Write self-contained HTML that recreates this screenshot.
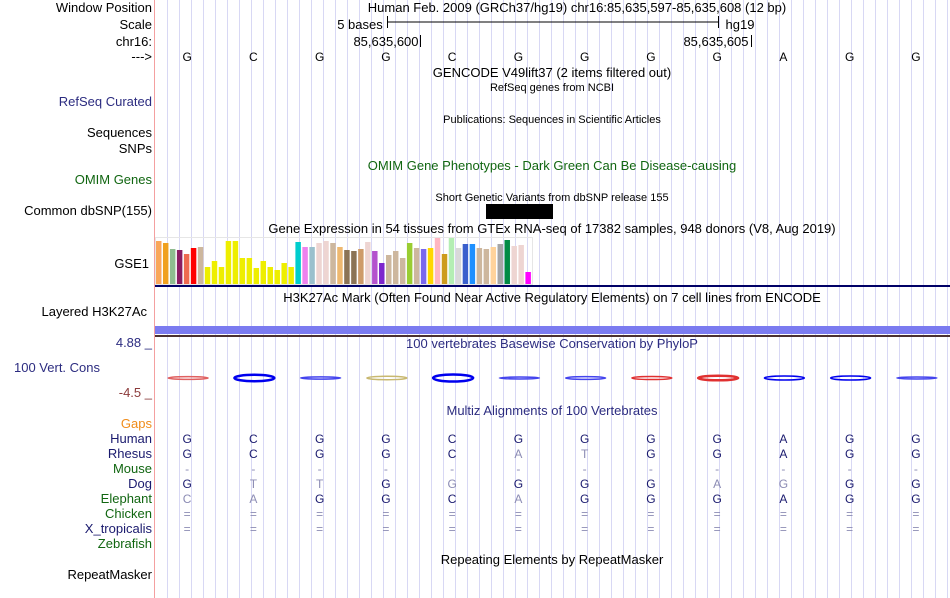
<!DOCTYPE html>
<html><head><meta charset="utf-8"><style>
html,body{margin:0;padding:0;background:#fff;}
svg{display:block;font-family:"Liberation Sans",sans-serif;}
</style></head><body>
<svg id="ucsc" width="950" height="598" viewBox="0 0 950 598" xmlns="http://www.w3.org/2000/svg">
<g id="grid"></g>
<line x1="154.5" y1="0" x2="154.5" y2="598" stroke="#f4a0a0"/>
<g id="labels" font-size="13" text-anchor="end">
<text x="152" y="12">Window Position</text>
<text x="152" y="29">Scale</text>
<text x="152" y="46">chr16:</text>
<text x="152" y="61">---&gt;</text>
<text x="152" y="106" fill="#2c2c80">RefSeq Curated</text>
<text x="152" y="137">Sequences</text>
<text x="152" y="153">SNPs</text>
<text x="152" y="184" fill="#116611">OMIM Genes</text>
<text x="152" y="215">Common dbSNP(155)</text>
<text x="149" y="268">GSE1</text>
<text x="147" y="316">Layered H3K27Ac</text>
<text x="100" y="372" fill="#2c2c80">100 Vert. Cons</text>
<text x="152" y="347" fill="#2c2c80">4.88 _</text>
<text x="152" y="397" fill="#8b3a3a">-4.5 _</text>
<text x="152" y="428" fill="#f08c1a">Gaps</text>
<text x="152" y="443" fill="#1a1a6e">Human</text>
<text x="152" y="458" fill="#1a1a6e">Rhesus</text>
<text x="152" y="473" fill="#116611">Mouse</text>
<text x="152" y="488" fill="#1a1a6e">Dog</text>
<text x="152" y="503" fill="#116611">Elephant</text>
<text x="152" y="518" fill="#116611">Chicken</text>
<text x="152" y="533" fill="#1a1a6e">X_tropicalis</text>
<text x="152" y="548" fill="#116611">Zebrafish</text>
<text x="152" y="579">RepeatMasker</text>
</g>
<g font-size="13" text-anchor="middle">
<text x="577" y="12">Human Feb. 2009 (GRCh37/hg19) chr16:85,635,597-85,635,608 (12 bp)</text>
<text x="360" y="29">5 bases</text>
<text x="740" y="29">hg19</text>
<text x="386" y="46">85,635,600</text>
<text x="716" y="46">85,635,605</text>
<text x="552" y="77">GENCODE V49lift37 (2 items filtered out)</text>
<text x="552" y="91" font-size="11">RefSeq genes from NCBI</text>
<text x="552" y="123" font-size="11">Publications: Sequences in Scientific Articles</text>
<text x="552" y="170" fill="#116611">OMIM Gene Phenotypes - Dark Green Can Be Disease-causing</text>
<text x="552" y="201" font-size="11">Short Genetic Variants from dbSNP release 155</text>
<text x="552" y="233">Gene Expression in 54 tissues from GTEx RNA-seq of 17382 samples, 948 donors (V8, Aug 2019)</text>
<text x="552" y="302">H3K27Ac Mark (Often Found Near Active Regulatory Elements) on 7 cell lines from ENCODE</text>
<text x="552" y="348" fill="#2c2c80">100 vertebrates Basewise Conservation by PhyloP</text>
<text x="552" y="415" fill="#2c2c80">Multiz Alignments of 100 Vertebrates</text>
<text x="552" y="564">Repeating Elements by RepeatMasker</text>
</g>
<g stroke="#000">
<line x1="387" y1="22" x2="718" y2="22"/><line x1="387.5" y1="16" x2="387.5" y2="28"/><line x1="718.5" y1="16" x2="718.5" y2="28"/>
<line x1="420.5" y1="35" x2="420.5" y2="47"/><line x1="751.5" y1="35" x2="751.5" y2="47"/>
</g>
<rect x="486" y="204" width="67" height="15" fill="#000"/>
<g id="gtex"></g>
<rect x="155" y="285" width="795" height="2" fill="#000066"/>
<rect x="155" y="326" width="795" height="8" fill="#7b7bf0"/>
<rect x="155" y="335" width="795" height="2" fill="#4a3030"/>
<g id="cons"></g>
<g id="bases" font-size="12" text-anchor="middle"></g>
</svg>
<script>
const refBases = ["G","C","G","G","C","G","G","G","G","A","G","G"];
const species = ["Human","Rhesus","Mouse","Dog","Elephant","Chicken","X_tropicalis"];
const alignRows = [
 "GCGGCGGGGAGG",
 "GCGGCATGGAGG",
 "------------",
 "GTTGGGGGAGGG",
 "CAGGCAGGGAGG",
 "============",
 "============"
];
const gtexValues = [44,42,36,35,31,37,38,18,24,18,44,44,27,27,17,24,18,15,22,18,43,38,38,42,44,42,38,35,34,36,43,34,22,30,34,27,42,37,36,37,47,31,48,37,41,41,37,36,38,41,45,39,40,13];
const gtexColors = ["#f9a65a","#f0a01e","#8fbc8f","#8b1c62","#ee6a50","#ff0000","#cdb79e","#eeee00","#eeee00","#eeee00","#eeee00","#eeee00","#eeee00","#eeee00","#eeee00","#eeee00","#eeee00","#eeee00","#eeee00","#eeee00","#00cdcd","#ee82ee","#9ac0cd","#eed5d2","#eed5d2","#cdb79e","#eeb870","#8b7355","#8b7355","#cd9b6a","#eed5d2","#b452cd","#7d26cd","#cdb79e","#cdb79e","#cdb79e","#9acd32","#cdb79e","#7a67ee","#ffd700","#ffb6c1","#cd9b1d","#b4eeb4","#d9d9d9","#3a5fcd","#1e90ff","#cdb79e","#cdb79e","#ffd39b","#a6a6a6","#008b45","#eed5d2","#eed5d2","#ff00ff"];
const consScores = [0.3,0.9,0.2,0.4,1.0,0.15,0.3,0.35,0.6,0.5,0.5,0.15];
const consColors = ["#e06060","#0000ee","#4444ee","#c8b870","#0000ee","#4444ee","#4444ee","#e03030","#e03030","#0000ee","#0000ee","#4444ee"];

const NS="http://www.w3.org/2000/svg";
const X0=155, W=795;
const baseX = i => X0 + (i+0.5)*W/refBases.length - 1;
function mk(tag, attrs, parent){const e=document.createElementNS(NS,tag);for(const k in attrs)e.setAttribute(k,attrs[k]);parent.appendChild(e);return e;}

const grid=document.getElementById('grid');
for(let x=167;x<950;x+=12){
 const l=mk('line',{x1:x+0.5,y1:0,x2:x+0.5,y2:598,stroke:'#d8d8f4'},grid);
 
 
}

const bases=document.getElementById('bases');
refBases.forEach((b,i)=>{
 const t=mk('text',{x:baseX(i),y:61},bases);t.textContent=b;
 
 
});
alignRows.forEach((row,r)=>{
 row.split('').forEach((c,i)=>{
  const match = r===0 || c===refBases[i];
  const t=mk('text',{x:baseX(i),y:443+r*15,fill:(match&&c!=='-'&&c!=='=')?'#1a1a6e':'#8c8cb4'},bases);
  t.textContent=c;
  
  
 });
});

const gtex=document.getElementById('gtex');
const barW=6.97, base=285, maxV=50, maxH=50;
const yScale = v => v/maxV*maxH;
gtexValues.forEach((v,i)=>{
 const h=yScale(v);
 const r=mk('rect',{x:156+i*barW,y:base-h,width:barW-1.5,height:h,fill:gtexColors[i]},gtex);
 
 
});
mk('rect',{x:155.5,y:237.5,width:377,height:47,fill:'none',stroke:'#e6e6e6'},gtex);

const cons=document.getElementById('cons');
consScores.forEach((s,i)=>{
 const cx=baseX(i)+1, w=40, h=1+s*6;
 const e=mk('ellipse',{cx:cx,cy:378,rx:w/2,ry:h/2,fill:'none',stroke:consColors[i],'stroke-width':s>0.5?2.5:1.5},cons);
 
 
});
</script>
</body></html>
